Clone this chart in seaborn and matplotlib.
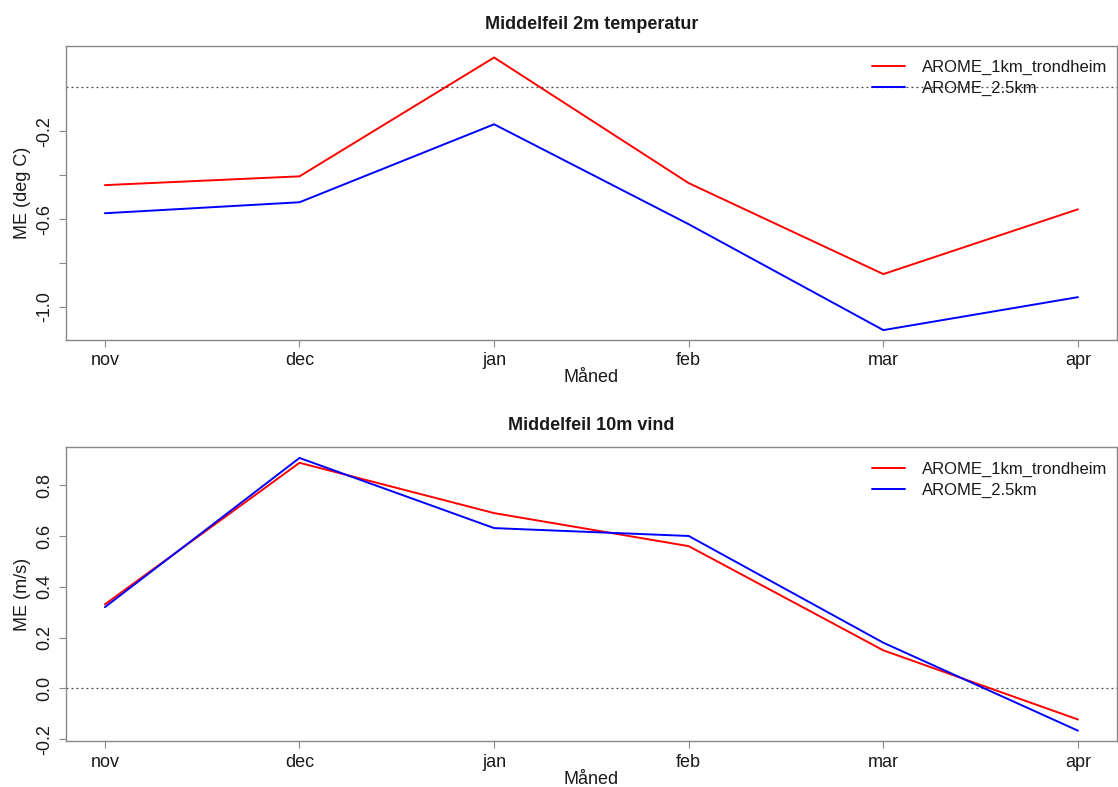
import matplotlib
matplotlib.use("Agg")
import matplotlib.pyplot as plt
import seaborn as sns
import pandas as pd

months = ["nov", "dec", "jan", "feb", "mar", "apr"]

# Mean error, 2 m temperature (deg C)
temp_1km = [-0.445, -0.405, 0.136, -0.436, -0.85, -0.555]
temp_25km = [-0.573, -0.523, -0.168, -0.623, -1.105, -0.955]

# Mean error, 10 m wind (m/s)
wind_1km = [0.331, 0.888, 0.69, 0.56, 0.15, -0.122]
wind_25km = [0.32, 0.907, 0.631, 0.60, 0.18, -0.166]

series_names = ["AROME_1km_trondheim", "AROME_2.5km"]
colors = ["#ff0000", "#0000ff"]

sns.set_theme(style="white")
plt.rcParams["font.family"] = ["Liberation Sans", "DejaVu Sans"]
plt.rcParams["text.color"] = "#1a1a1a"
plt.rcParams["axes.labelcolor"] = "#1a1a1a"
plt.rcParams["xtick.color"] = "#1a1a1a"
plt.rcParams["ytick.color"] = "#1a1a1a"

fig = plt.figure(figsize=(11.18, 7.87), dpi=100)
ax1 = fig.add_axes([0.059, 0.568, 0.940, 0.374])
ax2 = fig.add_axes([0.059, 0.058, 0.940, 0.374])


def panel(ax, a, b, title, ylabel, ylim, yticks, ylabels):
    df = pd.DataFrame({
        "x": list(range(len(months))) * 2,
        "val": a + b,
        "model": [series_names[0]] * len(months) + [series_names[1]] * len(months),
    })
    sns.lineplot(data=df, x="x", y="val", hue="model", palette=colors,
                 ax=ax, linewidth=1.4, legend=True)
    ax.axhline(0, color="#444444", linestyle=(0, (1.5, 2.5)), linewidth=0.9, zorder=0)
    ax.set_xlim(-0.2, 5.2)
    ax.set_ylim(*ylim)
    ax.set_xticks(range(len(months)))
    ax.set_xticklabels(months, fontsize=13)
    ax.set_yticks(yticks)
    ax.set_yticklabels(ylabels, rotation=90, va="center", fontsize=13)
    ax.tick_params(axis="both", which="both", length=5, width=0.8,
                   color="#888888", direction="out", bottom=True, left=True, pad=4)
    ax.set_xlabel("Måned", fontsize=13, labelpad=0)
    ax.set_ylabel(ylabel, fontsize=13)
    ax.set_title(title, fontsize=13, fontweight="bold", pad=12)
    for s in ax.spines.values():
        s.set_color("#888888")
        s.set_linewidth(1.0)
    ax.legend(loc="upper right", frameon=False, fontsize=12,
              handlelength=2.0, handletextpad=1.0, borderaxespad=0.2,
              labelspacing=0.35, bbox_to_anchor=(1.0, 0.985))
    return ax


panel(ax1, temp_1km, temp_25km, "Middelfeil 2m temperatur", "ME (deg C)",
      (-1.15, 0.19), [-0.2, -0.4, -0.6, -0.8, -1.0], ["-0.2", "", "-0.6", "", "-1.0"])
panel(ax2, wind_1km, wind_25km, "Middelfeil 10m vind", "ME (m/s)",
      (-0.208, 0.95), [0.8, 0.6, 0.4, 0.2, 0.0, -0.2], ["0.8", "0.6", "0.4", "0.2", "0.0", "-0.2"])

fig.savefig("out.png", dpi=100)
